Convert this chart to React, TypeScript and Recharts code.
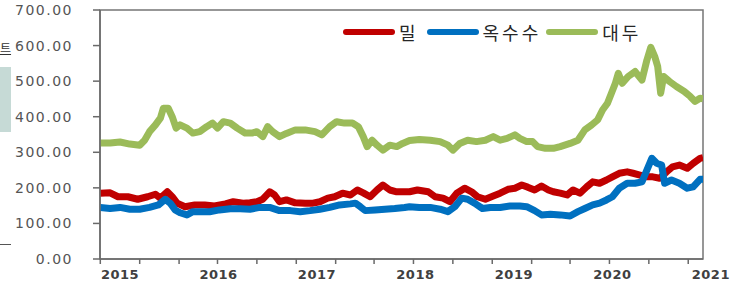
import { LineChart, Line, XAxis, YAxis, ReferenceArea } from "recharts";

// [decimal year, price]
const wheat: [number, number][] = [
  [2014.8, 185], [2014.9, 186], [2014.98, 175], [2015.08, 175], [2015.18, 168], [2015.28, 175],
  [2015.36, 182], [2015.41, 171], [2015.48, 189], [2015.53, 175], [2015.58, 157], [2015.66, 147],
  [2015.76, 152], [2015.86, 152], [2015.96, 149], [2016.07, 155], [2016.15, 161], [2016.25, 157],
  [2016.32, 158], [2016.39, 161], [2016.45, 168], [2016.52, 189], [2016.57, 180], [2016.62, 161],
  [2016.69, 166], [2016.78, 158], [2016.88, 157], [2016.96, 157], [2017.03, 161], [2017.11, 171],
  [2017.18, 175], [2017.26, 185], [2017.34, 180], [2017.41, 194], [2017.47, 186], [2017.54, 175],
  [2017.61, 194], [2017.67, 208], [2017.74, 194], [2017.81, 189], [2017.87, 189], [2017.94, 189],
  [2018.02, 194], [2018.13, 189], [2018.2, 175], [2018.28, 171], [2018.35, 161], [2018.42, 185],
  [2018.5, 199], [2018.57, 189], [2018.63, 175], [2018.71, 168], [2018.79, 177], [2018.86, 185],
  [2018.94, 196], [2019.01, 199], [2019.08, 208], [2019.14, 202], [2019.21, 194], [2019.28, 205],
  [2019.35, 194], [2019.4, 189], [2019.47, 185], [2019.54, 180], [2019.6, 194], [2019.67, 185],
  [2019.74, 203], [2019.8, 217], [2019.87, 213], [2019.94, 222], [2020.0, 231], [2020.07, 241],
  [2020.15, 245], [2020.21, 241], [2020.28, 236], [2020.35, 231], [2020.41, 231], [2020.48, 227],
  [2020.55, 245], [2020.61, 259], [2020.68, 264], [2020.76, 255], [2020.82, 269], [2020.89, 283],
  [2020.92, 285],
];

const corn: [number, number][] = [
  [2014.8, 145], [2014.9, 142], [2015.0, 145], [2015.1, 140], [2015.2, 140], [2015.3, 145],
  [2015.39, 152], [2015.46, 168], [2015.51, 157], [2015.56, 138], [2015.61, 130], [2015.68, 124],
  [2015.74, 133], [2015.81, 133], [2015.91, 133], [2016.01, 138], [2016.12, 141], [2016.22, 141],
  [2016.32, 140], [2016.42, 145], [2016.52, 145], [2016.62, 136], [2016.73, 136], [2016.83, 133],
  [2016.93, 136], [2017.03, 140], [2017.13, 145], [2017.23, 152], [2017.34, 155], [2017.39, 157],
  [2017.44, 147], [2017.49, 136], [2017.59, 138], [2017.69, 140], [2017.79, 142], [2017.89, 145],
  [2017.94, 147], [2018.04, 145], [2018.15, 145], [2018.25, 140], [2018.33, 133], [2018.4, 147],
  [2018.47, 171], [2018.53, 168], [2018.6, 157], [2018.68, 142], [2018.76, 145], [2018.86, 145],
  [2018.96, 149], [2019.06, 149], [2019.13, 147], [2019.21, 136], [2019.28, 124], [2019.37, 126],
  [2019.47, 124], [2019.57, 121], [2019.65, 133], [2019.72, 142], [2019.8, 152], [2019.87, 157],
  [2019.94, 166], [2020.0, 175], [2020.07, 199], [2020.15, 213], [2020.23, 213], [2020.3, 217],
  [2020.35, 250], [2020.4, 283], [2020.45, 269], [2020.5, 264], [2020.53, 213], [2020.6, 222],
  [2020.68, 213], [2020.76, 199], [2020.82, 203], [2020.89, 224], [2020.92, 224],
];

const soybean: [number, number][] = [
  [2014.8, 326], [2014.9, 326], [2015.0, 329], [2015.1, 323], [2015.2, 320], [2015.25, 334],
  [2015.3, 358], [2015.36, 377], [2015.41, 396], [2015.44, 424], [2015.49, 424], [2015.53, 400],
  [2015.57, 368], [2015.61, 377], [2015.68, 368], [2015.74, 354], [2015.81, 358], [2015.88, 372],
  [2015.94, 382], [2015.99, 368], [2016.05, 386], [2016.12, 382], [2016.19, 368], [2016.27, 354],
  [2016.34, 354], [2016.39, 358], [2016.45, 344], [2016.5, 372], [2016.55, 358], [2016.62, 344],
  [2016.69, 353], [2016.78, 363], [2016.88, 363], [2016.98, 358], [2017.05, 349], [2017.13, 372],
  [2017.2, 386], [2017.28, 382], [2017.36, 382], [2017.42, 372], [2017.47, 344], [2017.51, 316],
  [2017.56, 334], [2017.61, 320], [2017.67, 306], [2017.74, 320], [2017.81, 316], [2017.87, 325],
  [2017.94, 333], [2018.04, 336], [2018.15, 334], [2018.25, 330], [2018.33, 320], [2018.38, 306],
  [2018.45, 325], [2018.53, 334], [2018.62, 330], [2018.71, 334], [2018.79, 344], [2018.86, 334],
  [2018.93, 339], [2019.01, 349], [2019.06, 339], [2019.13, 330], [2019.19, 330], [2019.24, 316],
  [2019.32, 311], [2019.4, 311], [2019.47, 316], [2019.57, 325], [2019.65, 334], [2019.72, 363],
  [2019.79, 377], [2019.85, 391], [2019.9, 419], [2019.95, 438], [2019.99, 466], [2020.03, 494],
  [2020.06, 522], [2020.1, 494], [2020.16, 513], [2020.23, 527], [2020.3, 503], [2020.35, 559],
  [2020.39, 595], [2020.43, 569], [2020.46, 541], [2020.49, 466], [2020.52, 513], [2020.58, 499],
  [2020.65, 485], [2020.73, 471], [2020.79, 457], [2020.84, 443], [2020.89, 452], [2020.92, 450],
];

const yTicks = [0, 100, 200, 300, 400, 500, 600, 700];
const yearLabels = [2015, 2016, 2017, 2018, 2019, 2020, 2021];
const tickMarks = [
  2014.8, 2015.2, 2015.6, 2015.99, 2016.39, 2016.79, 2017.19, 2017.58,
  2017.98, 2018.38, 2018.78, 2019.18, 2019.57, 2019.97, 2020.37, 2020.77,
];
const X_MIN = 2014.797;
const X_MAX = 2020.92;

const series = [
  { key: "wheat", name: "밀", color: "#c00000", data: wheat },
  { key: "corn", name: "옥수수", color: "#0070c0", data: corn },
  { key: "soybean", name: "대두", color: "#9bbb59", data: soybean },
];

// merge all series onto one table keyed by date
const rowMap = new Map<number, Record<string, number>>();
series.forEach((s) =>
  s.data.forEach(([t, v]) => {
    const row = rowMap.get(t) ?? { t };
    row[s.key] = v;
    rowMap.set(t, row);
  })
);
const rows = [...rowMap.values()].sort((a, b) => a.t - b.t);

const axisColor = "#6a6a6a";
const frameColor = "#767676";

// tick marks drawn as small filled rects
const XMark = ({ x, y }: any) => (
  <rect x={Number(x) - 0.75} y={Number(y)} width={1.5} height={5} fill={axisColor} />
);

const YTick = ({ x, y, payload }: any) => (
  <g>
    <rect x={Number(x) - 7} y={Number(y) - 0.75} width={7} height={1.5} fill={axisColor} />
    <text
      x={Number(x) - 27}
      y={Number(y)}
      dy="0.355em"
      textAnchor="end"
      fill="#555"
      fontSize={14}
      fontFamily="'DejaVu Sans'"
      letterSpacing={1.5}
    >
      {Number(payload.value).toFixed(2)}
    </text>
  </g>
);

export default function App() {
  return (
    <div style={{ position: "absolute", left: 0, top: 0, width: 746, height: 283, background: "#fff", overflow: "hidden" }}>
      {/* bits of the surrounding page */}
      <div style={{ position: "absolute", left: 0, top: 40, fontFamily: "'Noto Sans CJK KR'", fontSize: 12, lineHeight: "16px", color: "#333", textDecoration: "underline" }}>트</div>
      <div style={{ position: "absolute", left: 0, top: 67, width: 11, height: 65, background: "#c6dad6" }} />
      <div style={{ position: "absolute", left: 0, top: 244, width: 11, height: 1, background: "#555" }} />

      <LineChart width={746} height={283} data={rows} margin={{ top: 10, right: 43, left: 10, bottom: 0 }}>
        <XAxis
          xAxisId={0}
          type="number"
          dataKey="t"
          domain={[X_MIN, X_MAX]}
          allowDataOverflow
          ticks={tickMarks}
          interval={0}
          tick={<XMark />}
          tickLine={false}
          axisLine={{ stroke: axisColor, strokeWidth: 1.5 }}
          tickSize={0}
          tickMargin={0}
          height={6}
        />
        <XAxis
          xAxisId={1}
          type="number"
          dataKey="t"
          domain={[X_MIN, X_MAX]}
          allowDataOverflow
          ticks={yearLabels}
          interval={0}
          axisLine={false}
          tickLine={false}
          tickSize={0}
          tickMargin={5}
          height={18}
          tick={{ fill: "#404040", fontSize: 13, fontWeight: 700, fontFamily: "'DejaVu Sans'", letterSpacing: 0.5 }}
        />
        <YAxis
          yAxisId={0}
          type="number"
          domain={[0, 700]}
          ticks={yTicks}
          interval={0}
          width={90}
          tickSize={0}
          tickMargin={0}
          tickLine={false}
          axisLine={{ stroke: axisColor, strokeWidth: 1.5 }}
          tick={<YTick />}
        />
        {/* plot frame */}
        <ReferenceArea
          xAxisId={0}
          yAxisId={0}
          x1={X_MIN}
          x2={X_MAX}
          y1={0}
          y2={700}
          fill="none"
          fillOpacity={0}
          stroke={frameColor}
          strokeWidth={1.5}
          strokeOpacity={1}
        />
        {series.map((s) => (
          <Line
            key={s.key}
            dataKey={s.key}
            name={s.name}
            type="linear"
            stroke={s.color}
            strokeWidth={7}
            strokeLinejoin="round"
            connectNulls
            dot={false}
            isAnimationActive={false}
          />
        ))}
      </LineChart>

      <div style={{ position: "absolute", left: 343, top: 21, display: "flex", alignItems: "center", fontFamily: "'Noto Sans CJK KR'", fontSize: 18, color: "#262626", lineHeight: "22px" }}>
        {series.map((s, i) => (
          <div key={s.key} style={{ display: "flex", alignItems: "center", marginRight: i === 0 ? 8 : 5 }}>
            <svg width={52} height={8} style={{ marginRight: 4 }}>
              <line x1={3} y1={4} x2={49} y2={4} stroke={s.color} strokeWidth={6} strokeLinecap="round" />
            </svg>
            <span style={{ letterSpacing: 3 }}>{s.name}</span>
          </div>
        ))}
      </div>
    </div>
  );
}
